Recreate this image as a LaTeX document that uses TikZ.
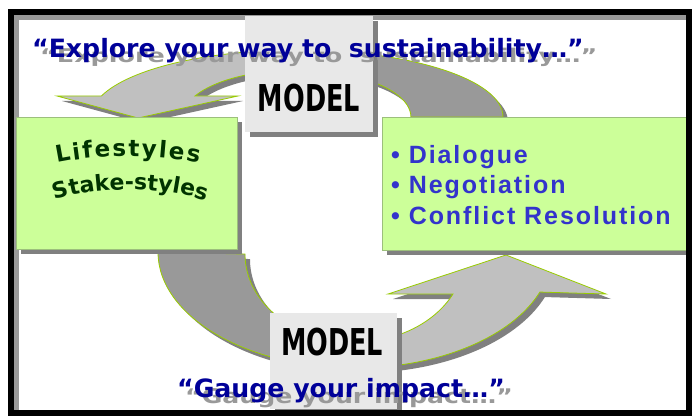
\documentclass[tikz,border=0pt]{standalone}
\usepackage{fontspec}
\usepackage{tikz}
\usetikzlibrary{shadows,decorations.text}
\newfontfamily\titlefam{DejaVu Sans}
\newfontfamily\listfam{Liberation Sans}[LetterSpace=7.7]
\newfontfamily\modelfam{DejaVu Sans}
\newfontfamily\lsfam{DejaVu Sans}
\definecolor{boxgreen}{HTML}{CCFF99}
\definecolor{boxedge}{HTML}{9CBF7C}
\definecolor{modelgray}{HTML}{E8E8E8}
\definecolor{shadowgray}{HTML}{808080}
\definecolor{textshadow}{HTML}{999999}
\definecolor{framegray}{HTML}{999999}
\definecolor{arrowlight}{HTML}{C0C0C0}
\definecolor{arrowdark}{HTML}{999999}
\definecolor{arrowline}{HTML}{99CC00}
\definecolor{titleblue}{HTML}{000099}
\definecolor{listblue}{HTML}{3333CC}
\definecolor{lsgreen}{HTML}{003300}
\newcommand\lsstyle{\lsfam\bfseries\fontsize{23}{23}\selectfont\color{lsgreen}}
\newcommand\ssstyle{\lsfam\bfseries\fontsize{22}{22}\selectfont\color{lsgreen}}
\newcommand\toparrowpath{(503,-117) arc[start angle=0, end angle=161.7, x radius=206pt, y radius=67pt] -- (57,-96) -- (138,-118) -- (238,-96) -- (195,-96) arc[start angle=153.4, end angle=0, x radius=114pt, y radius=47pt] -- cycle}
\newcommand\botarrowpath{(158,-252) arc[start angle=180, end angle=339.8, x radius=197pt, y radius=116pt] -- (606,-294) -- (506,-255) -- (388,-294) -- (453,-294) arc[start angle=333, end angle=180, x radius=110pt, y radius=88pt] -- cycle}
\tikzset{
greenboxv1/.style={rectangle, draw=boxedge, fill=boxgreen, line width=0.5pt, inner sep=0pt, drop shadow={shadow xshift=5pt, shadow yshift=-5pt, fill=shadowgray, opacity=1}},
modelbox/.style={rectangle, draw=none, fill=modelgray, inner sep=0pt, drop shadow={shadow xshift=5pt, shadow yshift=-5pt, fill=shadowgray, opacity=1}},
modeltext/.style={anchor=base, inner sep=0pt, font=\modelfam\bfseries\fontsize{37}{37}\selectfont},
titletext/.style={anchor=base west, inner sep=0pt, text=titleblue, font=\titlefam\bfseries\fontsize{25.2}{30}\selectfont},
titleshadow/.style={titletext, text=textshadow},
listtext/.style={anchor=base west, inner sep=0pt, text=listblue, font=\listfam\bfseries\fontsize{25}{30}\selectfont},
arrowedge/.style={draw=arrowline, line width=0.8pt},
}
\begin{document}
\begin{tikzpicture}[x=1pt,y=1pt]
\useasboundingbox[fill=white] (0,0) rectangle (693,-417);
\draw[line width=5pt, framegray] (16.5,-410) -- (16.5,-17.5) -- (686,-17.5);

% top arrow
\fill[shadowgray, shift={(5,-5)}] \toparrowpath;
\fill[arrowlight] \toparrowpath;
\begin{scope}
\clip (310,0) rectangle (693,-417);
\fill[arrowdark] \toparrowpath;
\end{scope}
\draw[arrowedge] \toparrowpath;

% bottom arrow
\fill[shadowgray, shift={(5,-5)}] \botarrowpath;
\fill[arrowlight] \botarrowpath;
\begin{scope}
\clip (0,0) rectangle (335,-417);
\fill[arrowdark] \botarrowpath;
\end{scope}
\draw[arrowedge] \botarrowpath;

\node[greenboxv1, minimum width=221pt, minimum height=132pt] at (126.5,-183) (lifebox) {};
\node[greenboxv1, minimum width=304pt, minimum height=133pt] at (534,-183.5) (talkbox) {};
\node[modelbox, minimum width=128pt, minimum height=116pt] at (309,-74) (modeltop) {};
\node[modelbox, minimum width=127pt, minimum height=96pt] at (333.5,-361) (modelbot) {};

\node[modeltext] at (309,-112) (modeltoplabel) {\scalebox{0.69}[1]{MODEL}};
\node[modeltext] at (332,-355) (modelbotlabel) {\scalebox{0.69}[1]{MODEL}};

\path[decorate, decoration={text along path, text={|\lsstyle|Lifestyles}, text align=fit to path}] (57,-163) .. controls (100,-154) and (155,-154) .. (199,-163);
\path[decorate, decoration={text along path, text={|\ssstyle|Stake-styles}, text align=fit to path}] (55,-200) .. controls (100,-186) and (158,-186) .. (204,-200);

\node[listtext] at (391,-163) (dialogue) {• Dialogue};
\node[listtext] at (391,-193) (negotiation) {• Negotiation};
\node[listtext] at (391,-224) (conflict) {• Conflict Resolution};

\node[titleshadow] at (40,-63) (exploreshadow) {\scalebox{1.01}[0.75]{“Explore your way to\ \ sustainability…”}};
\node[titletext] at (32,-58) (explore) {“Explore your way to\ \ sustainability…”};
\node[titleshadow] at (185,-403) (gaugeshadow) {\scalebox{1}[0.8]{“Gauge your impact…”}};
\node[titletext] at (177,-397) (gauge) {“Gauge your impact…”};

\draw[line width=6pt, black] (11,-12) rectangle (689,-413);
\end{tikzpicture}
\end{document}
